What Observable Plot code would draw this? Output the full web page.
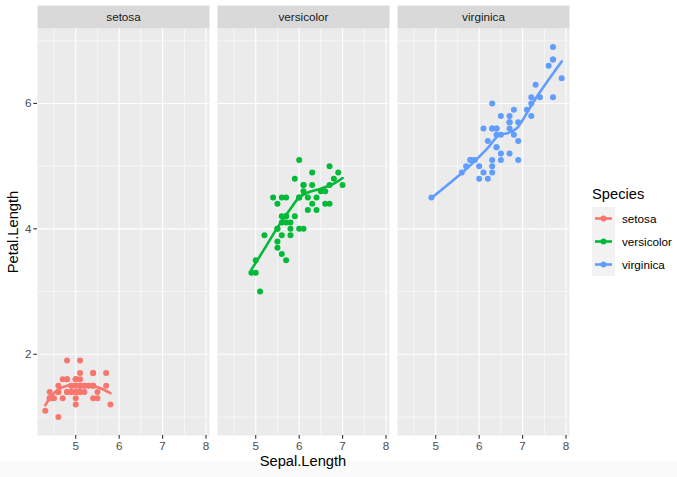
<!DOCTYPE html>
<html>
<head>
<meta charset="utf-8">
<script src="https://cdn.jsdelivr.net/npm/d3@7"></script>
<script src="https://cdn.jsdelivr.net/npm/@observablehq/plot@0.6"></script>
<style>
  html, body { margin:0; padding:0; background:#fff; }
  #wrap { position:relative; width:677px; height:477px; overflow:hidden; font-family:"Liberation Sans", Arial, sans-serif; }
  #band { position:absolute; left:0; top:461px; width:677px; height:16px; background:#FBFBFB; }
  #chart { position:absolute; left:0; top:0; }
  .title { position:absolute; font-size:14.7px; color:#000; white-space:nowrap; }
  #legend { position:absolute; left:592px; top:186px; }
  #legend .lt { font-size:14.7px; color:#000; margin-bottom:5px; }
  #legend .row { display:flex; align-items:center; height:23px; }
  #legend .key { width:23px; height:23px; background:#F2F2F2; }
  #legend .lab { font-size:11.7px; color:#000; margin-left:7px; }
</style>
</head>
<body>
<div id="wrap">
  <div id="band"></div>
  <div id="chart"></div>
  <div class="title" id="xt" style="left:303px; top:453px; transform:translateX(-50%);">Sepal.Length</div>
  <div class="title" id="yt" style="left:13px; top:231.5px; transform:translate(-50%,-50%) rotate(-90deg);">Petal.Length</div>
  <div id="legend"></div>
</div>
<script>
const species = ["setosa", "versicolor", "virginica"];
const colors = ["#F8766D", "#00BA38", "#619CFF"];
const xTicks = [5, 6, 7, 8];
const yTicks = [2, 4, 6];

const setosaSepal = [5.1,4.9,4.7,4.6,5.0,5.4,4.6,5.0,4.4,4.9,5.4,4.8,4.8,4.3,5.8,5.7,5.4,5.1,5.7,5.1,5.4,5.1,4.6,5.1,4.8,5.0,5.0,5.2,5.2,4.7,4.8,5.4,5.2,5.5,4.9,5.0,5.5,4.9,4.4,5.1,5.0,4.5,4.4,5.0,5.1,4.8,5.1,4.6,5.3,5.0];
const setosaPetal = [1.4,1.4,1.3,1.5,1.4,1.7,1.4,1.5,1.4,1.5,1.5,1.6,1.4,1.1,1.2,1.5,1.3,1.4,1.7,1.5,1.7,1.5,1.0,1.7,1.9,1.6,1.6,1.5,1.4,1.6,1.6,1.5,1.5,1.4,1.5,1.2,1.3,1.4,1.3,1.5,1.3,1.3,1.3,1.6,1.9,1.4,1.6,1.4,1.5,1.4];
const versicolorSepal = [7.0,6.4,6.9,5.5,6.5,5.7,6.3,4.9,6.6,5.2,5.0,5.9,6.0,6.1,5.6,6.7,5.6,5.8,6.2,5.6,5.9,6.1,6.3,6.1,6.4,6.6,6.8,6.7,6.0,5.7,5.5,5.5,5.8,6.0,5.4,6.0,6.7,6.3,5.6,5.5,5.5,6.1,5.8,5.0,5.6,5.7,5.7,6.2,5.1,5.7];
const versicolorPetal = [4.7,4.5,4.9,4.0,4.6,4.5,4.7,3.3,4.6,3.9,3.5,4.2,4.0,4.7,3.6,4.4,4.5,4.1,4.5,3.9,4.8,4.0,4.9,4.7,4.3,4.4,4.8,5.0,4.5,3.5,3.8,3.7,3.9,5.1,4.5,4.5,4.7,4.4,4.1,4.0,4.4,4.6,4.0,3.3,4.2,4.2,4.2,4.3,3.0,4.1];
const virginicaSepal = [6.3,5.8,7.1,6.3,6.5,7.6,4.9,7.3,6.7,7.2,6.5,6.4,6.8,5.7,5.8,6.4,6.5,7.7,7.7,6.0,6.9,5.6,7.7,6.3,6.7,7.2,6.2,6.1,6.4,7.2,7.4,7.9,6.4,6.3,6.1,7.7,6.3,6.4,6.0,6.9,6.7,6.9,5.8,6.8,6.7,6.7,6.3,6.5,6.2,5.9];
const virginicaPetal = [6.0,5.1,5.9,5.6,5.8,6.6,4.5,6.3,5.8,6.1,5.1,5.3,5.5,5.0,5.1,5.3,5.5,6.7,6.9,5.0,5.7,4.9,6.7,4.9,5.7,6.0,4.8,4.9,5.6,5.8,6.1,6.4,5.6,5.1,5.6,6.1,5.6,5.5,4.8,5.4,5.6,5.1,5.1,5.9,5.7,5.2,5.0,5.2,5.4,5.1];

// smoothed (loess) curves
const setosaFitX = [4.3,4.45,4.6,4.8,5.0,5.2,5.4,5.6,5.8];
const setosaFitY = [1.19,1.34,1.44,1.50,1.52,1.52,1.50,1.45,1.38];
const versicolorFitX = [4.9,5.2,5.5,5.8,6.0,6.2,6.5,6.8,7.0];
const versicolorFitY = [3.35,3.68,4.02,4.32,4.50,4.58,4.64,4.72,4.81];
const virginicaFitX = [4.9,5.6,5.9,6.2,6.45,6.67,6.86,7.1,7.3,7.9];
const virginicaFitY = [4.49,4.89,5.08,5.29,5.49,5.53,5.60,5.85,6.08,6.67];

const sepal = [setosaSepal, versicolorSepal, virginicaSepal];
const petal = [setosaPetal, versicolorPetal, virginicaPetal];
const fitX = [setosaFitX, versicolorFitX, virginicaFitX];
const fitY = [setosaFitY, versicolorFitY, virginicaFitY];

const points = species.flatMap((s, i) => sepal[i].map((v, j) => ({species: s, x: v, y: petal[i][j]})));
const fits = species.flatMap((s, i) => fitX[i].map((v, j) => ({species: s, x: v, y: fitY[i][j]})));

const W = 677, H = 477, mT = 28, mB = 42, mL = 37, mR = 108;
const frameH = H - mT - mB;
const fmt = d => String(d);

const chart = Plot.plot({
  width: W, height: H,
  marginLeft: mL, marginRight: mR, marginTop: mT, marginBottom: mB,
  style: {background: "transparent", fontFamily: "'Liberation Sans', Arial, sans-serif", overflow: "visible"},
  fx: {domain: species, paddingInner: 8 / 180, paddingOuter: 0, axis: null, label: null},
  x: {domain: [4.12, 8.08], label: null},
  y: {domain: [0.705, 7.195], label: null},
  color: {domain: species, range: colors},
  marks: [
    Plot.frame({fill: "#EBEBEB", stroke: null}),
    Plot.frame({fill: "#D9D9D9", stroke: null, insetTop: -23, insetBottom: frameH}),
    Plot.gridX([4.5, 5.5, 6.5, 7.5], {stroke: "#fff", strokeOpacity: 1, strokeWidth: 0.55}),
    Plot.gridY([1, 3, 5, 7], {stroke: "#fff", strokeOpacity: 1, strokeWidth: 0.55}),
    Plot.gridX(xTicks, {stroke: "#fff", strokeOpacity: 1, strokeWidth: 1.1}),
    Plot.gridY(yTicks, {stroke: "#fff", strokeOpacity: 1, strokeWidth: 1.1}),
    Plot.axisX(xTicks, {tickSize: 3.7, tickPadding: 2.2, color: "#4D4D4D", stroke: "#333333", fontSize: 11.7, label: null, strokeWidth: 1.1, tickFormat: fmt}),
    Plot.axisY(yTicks, {tickSize: 3.7, tickPadding: 2.2, color: "#4D4D4D", stroke: "#333333", fontSize: 11.7, label: null, strokeWidth: 1.1, tickFormat: fmt}),
    Plot.dot(points, {x: "x", y: "y", fx: "species", fill: "species", r: 3, stroke: null}),
    Plot.line(fits, {x: "x", y: "y", fx: "species", z: "species", stroke: "species", strokeWidth: 2.6, curve: "catmull-rom"}),
    Plot.text(species, {fx: d => d, text: d => d, frameAnchor: "top", dy: -11.5, lineAnchor: "middle", fontSize: 11.7, fill: "#1A1A1A"})
  ]
});
document.getElementById("chart").appendChild(chart);

// legend
const lg = d3.select("#legend");
lg.append("div").attr("class", "lt").text("Species");
species.forEach((s, i) => {
  const row = lg.append("div").attr("class", "row");
  const key = row.append("svg").attr("class", "key").attr("width", 23).attr("height", 23);
  key.append("rect").attr("width", 23).attr("height", 23).attr("fill", "#F2F2F2");
  key.append("line").attr("x1", 3).attr("x2", 20).attr("y1", 11.5).attr("y2", 11.5)
     .attr("stroke", colors[i]).attr("stroke-width", 2.6);
  key.append("circle").attr("cx", 11.5).attr("cy", 11.5).attr("r", 3).attr("fill", colors[i]);
  row.append("div").attr("class", "lab").text(s);
});
</script>
</body>
</html>
